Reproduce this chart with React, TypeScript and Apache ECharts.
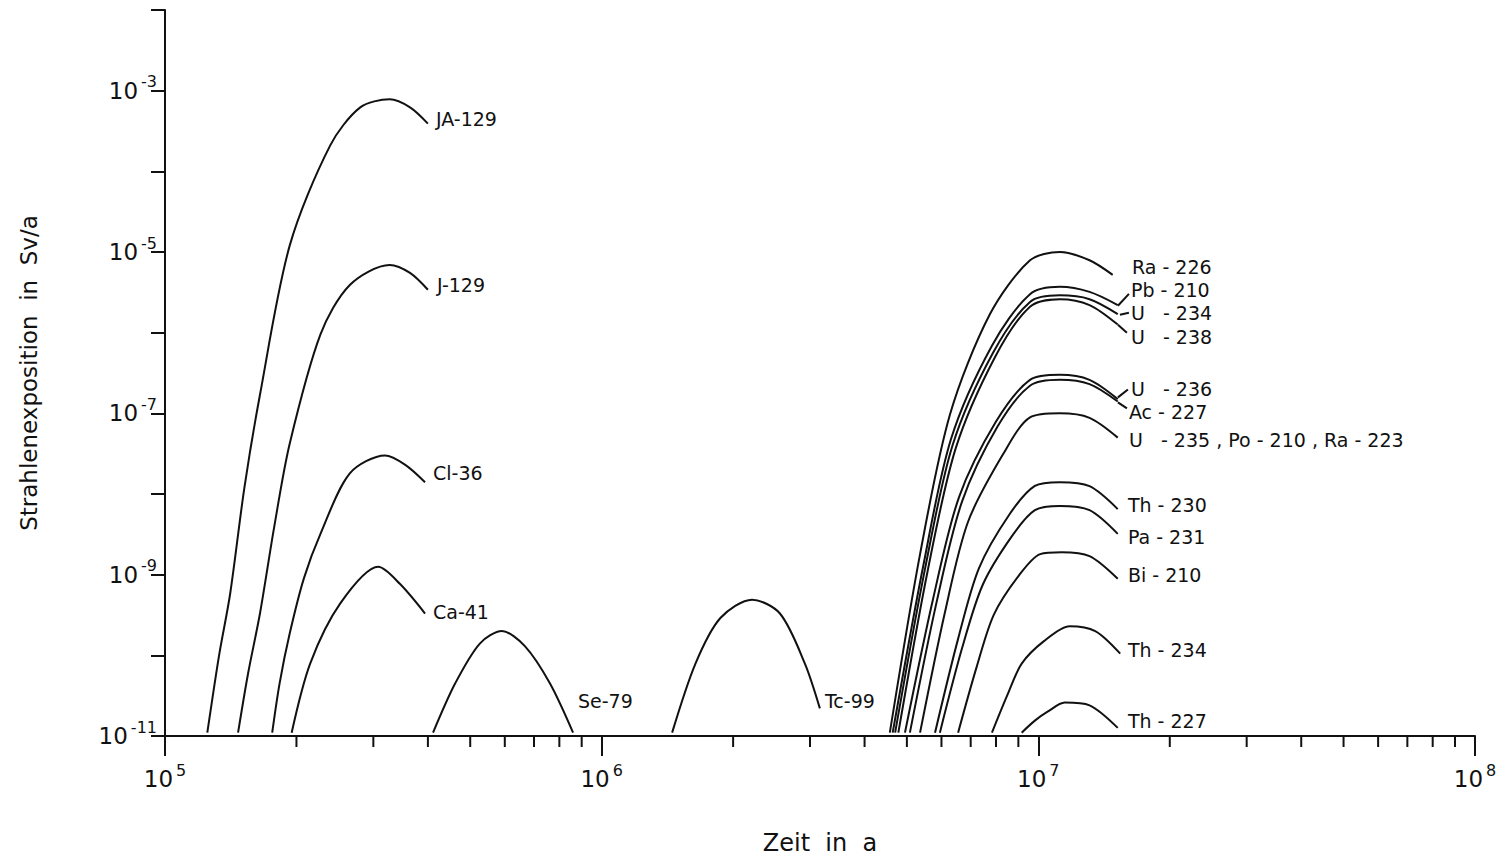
import { useEffect, useRef } from 'react';
import * as echarts from 'echarts';

// Kurven: [Zeit in a, Strahlenexposition in Sv/a]
const ja129 = [[1.25e5, 1.1e-11], [1.33e5, 1e-10], [1.41e5, 5.8e-10], [1.52e5, 1.2e-8], [1.65e5, 1.7e-7], [1.93e5, 1.2e-5], [2.39e5, 2.1e-4], [2.8e5, 6.2e-4], [3.27e5, 7.8e-4], [3.64e5, 6.2e-4], [4.0e5, 3.9e-4]];
const j129 = [[1.47e5, 1.1e-11], [1.55e5, 6e-11], [1.65e5, 3.3e-10], [1.78e5, 4e-9], [1.93e5, 4.2e-8], [2.27e5, 9.5e-7], [2.65e5, 3.9e-6], [3.27e5, 6.9e-6], [3.64e5, 5.5e-6], [4.0e5, 3.4e-6]];
const cl36 = [[1.76e5, 1.1e-11], [1.83e5, 4.5e-11], [1.93e5, 1.86e-10], [2.08e5, 9e-10], [2.27e5, 3.2e-9], [2.65e5, 1.8e-8], [3.19e5, 3.0e-8], [3.55e5, 2.3e-8], [3.94e5, 1.4e-8]];
const ca41 = [[1.95e5, 1.1e-11], [2.15e5, 7.9e-11], [2.52e5, 4.4e-10], [3.08e5, 1.25e-9], [3.45e5, 7.7e-10], [3.94e5, 3.3e-10]];
const se79 = [[4.11e5, 1.1e-11], [4.62e5, 4.5e-11], [5.26e5, 1.4e-10], [5.91e5, 2.0e-10], [6.67e5, 1.3e-10], [7.61e5, 4.5e-11], [8.6e5, 1.1e-11]];
const tc99 = [[1.45e6, 1.1e-11], [1.64e6, 7.9e-11], [1.87e6, 2.9e-10], [2.21e6, 4.9e-10], [2.56e6, 3.3e-10], [2.92e6, 7.9e-11], [3.16e6, 2.2e-11]];
const ra226 = [[4.57e6, 1.1e-11], [5.36e6, 1.8e-9], [6.28e6, 9.8e-8], [7.75e6, 1.7e-6], [9.57e6, 7.9e-6], [1.12e7, 1e-5], [1.31e7, 7.9e-6], [1.48e7, 5.2e-6]];
const pb210 = [[4.64e6, 1.1e-11], [5.45e6, 1.28e-9], [6.31e6, 4.8e-8], [7.83e6, 6.9e-7], [9.57e6, 3.0e-6], [1.12e7, 3.7e-6], [1.31e7, 3.2e-6], [1.52e7, 2.2e-6]];
const u234 = [[4.7e6, 1.1e-11], [5.5e6, 1.17e-9], [6.37e6, 4.1e-8], [7.87e6, 5.6e-7], [9.57e6, 2.4e-6], [1.12e7, 2.9e-6], [1.31e7, 2.6e-6], [1.52e7, 1.7e-6]];
const u238 = [[4.78e6, 1.1e-11], [5.58e6, 1.12e-9], [6.47e6, 3.7e-8], [7.96e6, 5.0e-7], [9.57e6, 2.1e-6], [1.12e7, 2.6e-6], [1.31e7, 2.2e-6], [1.52e7, 1.26e-6]];
const u236 = [[4.95e6, 1.1e-11], [5.74e6, 5.0e-10], [6.58e6, 9.1e-9], [8.0e6, 7.9e-8], [9.57e6, 2.6e-7], [1.12e7, 3.0e-7], [1.31e7, 2.6e-7], [1.52e7, 1.5e-7]];
const ac227 = [[5.08e6, 1.1e-11], [5.86e6, 4.8e-10], [6.69e6, 8.1e-9], [8.07e6, 6.9e-8], [9.57e6, 2.2e-7], [1.12e7, 2.6e-7], [1.31e7, 2.3e-7], [1.52e7, 1.4e-7]];
const u235 = [[5.36e6, 1.1e-11], [6.11e6, 3.4e-10], [6.9e6, 4.5e-9], [8.3e6, 3.1e-8], [9.57e6, 8.9e-8], [1.12e7, 1e-7], [1.31e7, 8.8e-8], [1.52e7, 5e-8]];
const th230 = [[5.8e6, 1.1e-11], [6.55e6, 1.6e-10], [7.31e6, 1.2e-9], [8.57e6, 5.5e-9], [9.82e6, 1.26e-8], [1.12e7, 1.4e-8], [1.31e7, 1.25e-8], [1.52e7, 6.5e-9]];
const pa231 = [[5.95e6, 1.1e-11], [6.69e6, 1.23e-10], [7.46e6, 7.5e-10], [8.7e6, 3.0e-9], [9.82e6, 6.3e-9], [1.12e7, 7.1e-9], [1.31e7, 6.3e-9], [1.52e7, 3.2e-9]];
const bi210 = [[6.55e6, 1.1e-11], [7.23e6, 7.3e-11], [7.91e6, 3.2e-10], [9.03e6, 9.8e-10], [1.01e7, 1.8e-9], [1.13e7, 1.9e-9], [1.31e7, 1.7e-9], [1.52e7, 8.9e-10]];
const th234 = [[7.83e6, 1.1e-11], [8.51e6, 3.3e-11], [9.16e6, 7.9e-11], [1.03e7, 1.5e-10], [1.18e7, 2.3e-10], [1.35e7, 2.0e-10], [1.54e7, 1.05e-10]];
const th227 = [[9.16e6, 1.1e-11], [9.82e6, 1.55e-11], [1.05e7, 2.0e-11], [1.15e7, 2.6e-11], [1.31e7, 2.4e-11], [1.52e7, 1.26e-11]];

const curves = [ja129, j129, cl36, ca41, se79, tc99, ra226, pb210, u234, u238, u236, ac227, u235, th230, pa231, bi210, th234, th227];

const xMinorTicks = [2, 3, 4, 5, 6, 7, 8, 9];
const xDecades = [1e5, 1e6, 1e7];

// Beschriftungen, Lage wie in der Vorlage (Vorlagen-Pixel, werden in Datenkoordinaten umgerechnet)
const labels: Array<[string, number, number]> = [
  ['JA-129', 436, 123], ['J-129', 437, 290], ['Cl-36', 433, 479], ['Ca-41', 433, 618],
  ['Se-79', 578, 708], ['Tc-99', 825, 708], ['Ra - 226', 1132, 272], ['Pb - 210', 1131, 295],
  ['U   - 234', 1131, 318], ['U   - 238', 1131, 342], ['U   - 236', 1131, 395], ['Ac - 227', 1129, 418],
  ['U   - 235 , Po - 210 , Ra - 223', 1129, 446], ['Th - 230', 1128, 511], ['Pa - 231', 1128, 543],
  ['Bi - 210', 1128, 581], ['Th - 234', 1128, 657], ['Th - 227', 1128, 728],
];
const leaders = [[1118, 311, 1129, 299], [1120, 320, 1129, 318], [1118, 330, 1127, 338], [1118, 403, 1128, 395], [1118, 408, 1127, 414]];

const refX = (p: number) => Math.pow(10, 5 + (p - 165) / 436.7);
const refY = (p: number) => Math.pow(10, -11 + (743 - p) / 81);

const sup = (v: number) => {
  const e = Math.round(Math.log10(v));
  return `{b|10}{s|${e}}`;
};

export default function App() {
  const ref = useRef<HTMLDivElement>(null);

  useEffect(() => {
    document.body.style.margin = '0';
    if (!ref.current) return;
    const chart = echarts.init(ref.current, null, { renderer: 'svg' });
    const font = 'DejaVu Sans';
    const rich = { b: { fontSize: 23, fontFamily: font, color: '#111' }, s: { fontSize: 16, fontFamily: font, color: '#111', verticalAlign: 'top', padding: [0, 0, 18, 3] } };
    chart.setOption({
      animation: false,
      backgroundColor: '#fff',
      grid: { left: 165, right: 31, top: 10, bottom: 110 },
      xAxis: {
        type: 'log', min: 1e5, max: 1e8, logBase: 10,
        axisLine: { lineStyle: { color: '#111', width: 2 } },
        axisTick: { length: 20, lineStyle: { color: '#111', width: 2 } },
        splitLine: { show: false },
        axisLabel: { formatter: sup, rich, margin: 26, color: '#111' },
        name: 'Zeit  in  a', nameLocation: 'middle', nameGap: 95,
        nameTextStyle: { fontSize: 24, fontFamily: font, color: '#111' },
      },
      yAxis: {
        type: 'log', min: 1e-11, max: 1e-2, logBase: 10,
        axisLine: { lineStyle: { color: '#111', width: 2 } },
        axisTick: { length: 14, lineStyle: { color: '#111', width: 2 } },
        splitLine: { show: false },
        axisLabel: {
          formatter: (v: number) => (Math.abs(Math.round(Math.log10(v))) % 2 === 1 ? sup(v) : ''),
          rich, margin: 8, color: '#111',
        },
        name: 'Strahlenexposition  in  Sv/a', nameLocation: 'middle', nameGap: 125,
        nameTextStyle: { fontSize: 23, fontFamily: font, color: '#111' },
      },
      series: curves.map((d) => ({
        type: 'line', data: d, smooth: 0.3, symbol: 'none',
        lineStyle: { color: '#111', width: 2 },
      })),
    });

    const px = (x: number, y: number) => chart.convertToPixel({ gridIndex: 0 }, [x, y]);
    const g: any[] = [];
    for (const dec of xDecades) {
      for (const m of xMinorTicks) {
        const p = px(dec * m, 1e-11);
        g.push({ type: 'line', shape: { x1: p[0], y1: p[1], x2: p[0], y2: p[1] + 11 }, style: { stroke: '#111', lineWidth: 2 } });
      }
    }
    for (const [t, x, y] of labels) {
      const p = px(refX(x), refY(y));
      g.push({ type: 'text', x: p[0], y: p[1], style: { text: t, fontSize: 19, fontFamily: font, fill: '#111', textVerticalAlign: 'middle' } });
    }
    for (const [x1, y1, x2, y2] of leaders) {
      const a = px(refX(x1), refY(y1));
      const b = px(refX(x2), refY(y2));
      g.push({ type: 'line', shape: { x1: a[0], y1: a[1], x2: b[0], y2: b[1] }, style: { stroke: '#111', lineWidth: 2 } });
    }
    chart.setOption({ graphic: g });
    return () => chart.dispose();
  }, []);

  return <div ref={ref} style={{ width: '100%', height: '100vh' }} />;
}
